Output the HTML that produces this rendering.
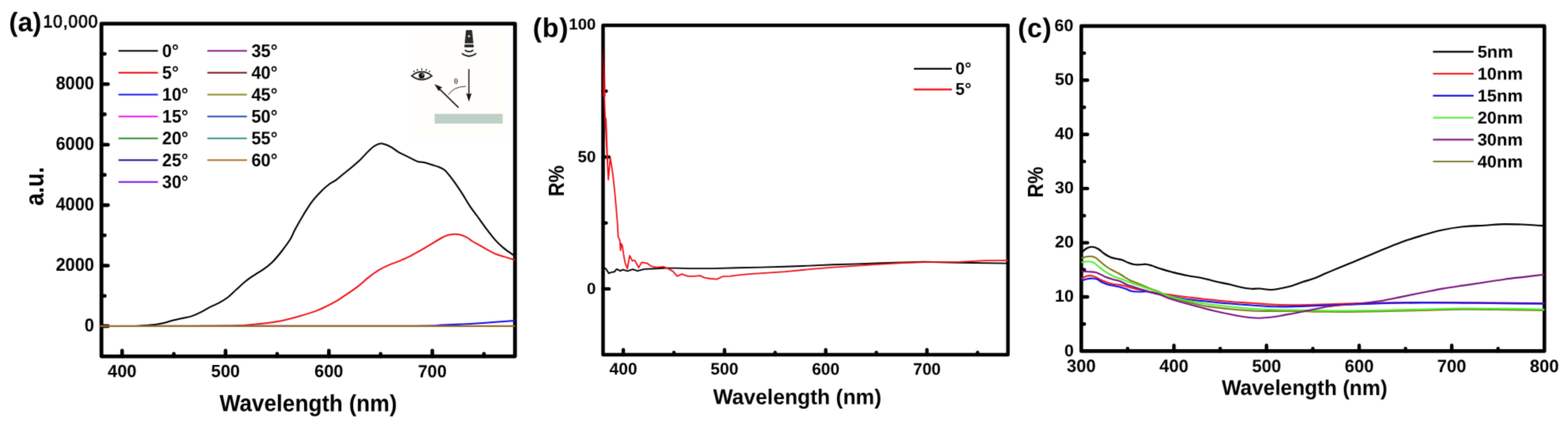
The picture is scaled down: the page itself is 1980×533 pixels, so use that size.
<!DOCTYPE html>
<html lang="en"><head><meta charset="utf-8"><title>Figure</title>
<style>html,body{margin:0;padding:0;background:#fff}body{width:1980px;height:533px;overflow:hidden}svg{display:block}text{font-family:'Liberation Sans', Arial, Helvetica, sans-serif;fill:#000}</style>
</head><body>
<svg width="1980" height="533" viewBox="0 0 1980 533">
<defs><filter id="soft" filterUnits="userSpaceOnUse" x="-20" y="-20" width="2020" height="573" color-interpolation-filters="sRGB"><feConvolveMatrix order="3" kernelMatrix="1 5 1 5 25 5 1 5 1" edgeMode="duplicate" preserveAlpha="true"/></filter></defs>
<rect width="1980" height="533" fill="#fff"/>
<g filter="url(#soft)">
<rect x="-20" y="-20" width="2020" height="573" fill="#fff"/>
<g id="panel-a">
<rect x="518.6" y="39.6" width="119.4" height="133.9" fill="#fffefa"/>
<g class="panel">
<path d="M154.2 450.1V442.9M284.8 450.1V442.9M415.3 450.1V442.9M545.9 450.1V442.9M219.5 450.1V446.7M350 450.1V446.7M480.6 450.1V446.7M611.1 450.1V446.7M128.1 411.9H136.4M128.1 335.5H136.4M128.1 259.1H136.4M128.1 182.7H136.4M128.1 106.2H136.4M128.1 373.7H132.4M128.1 297.3H132.4M128.1 220.9H132.4M128.1 144.4H132.4M128.1 68H132.4" fill="none" stroke="#000" stroke-width="4.6" stroke-linecap="round"/>
<rect x="128.1" y="29.8" width="522.2" height="420.3" fill="none" stroke="#000" stroke-width="4.8" stroke-linejoin="round"/>
<path d="M128 411.9C133.3 411.9 152.2 411.9 160 411.9C167.8 411.9 170.7 411.9 175 411.7C179.3 411.5 182.2 411.2 186 410.9C189.8 410.6 193.8 410.3 197.6 409.7C201.4 409.1 205.1 408.3 208.8 407.4C212.6 406.5 216.3 405.2 220.1 404.3C223.9 403.4 227.7 402.7 231.4 401.8C235.2 400.9 238.8 400.4 242.6 399.1C246.3 397.8 250.2 396 253.9 394.1C257.7 392.2 261.4 389.7 265.1 387.8C268.9 385.9 272.6 384.8 276.4 382.7C280.2 380.6 283.9 378.4 287.7 375.5C291.4 372.6 295.1 368.7 298.9 365.3C302.6 361.9 306.4 358.2 310.2 355.2C313.9 352.2 317.6 349.8 321.4 347.3C325.1 344.8 328.9 342.8 332.7 340.1C336.5 337.4 340.2 334.6 344 330.9C347.8 327.2 351.4 322.8 355.2 318C358.9 313.2 363.6 307 366.5 302.3C369.4 297.6 369.6 295.4 372.5 290C375.4 284.6 380.1 276.3 383.8 270.2C387.6 264.1 391.2 258.2 395 253.3C398.8 248.4 402.9 244.3 406.3 240.9C409.7 237.5 412.3 235.2 415.3 233C418.3 230.8 421.3 229.6 424.3 227.4C427.3 225.2 430.3 222.4 433.3 220C436.3 217.6 438.9 215.6 442.3 212.8C445.7 210 450.2 206.3 453.6 203.1C457 199.9 459.6 196.6 462.6 193.6C465.6 190.6 469 187.3 471.6 185.3C474.2 183.3 476.1 182.3 478.4 181.7C480.6 181.1 482.5 181.2 485.1 181.9C487.7 182.6 491.1 184.1 494.1 185.8C497.1 187.5 500.1 190.3 503.1 192.1C506.1 193.9 509.2 195.1 512.2 196.6C515.2 198.1 518.6 199.8 521.2 201.1C523.8 202.4 525.3 203.5 527.9 204.2C530.5 204.9 533.9 204.7 536.9 205.4C539.9 206.1 542.9 207.3 545.9 208.3C548.9 209.3 552.3 210.1 554.9 211.2C557.5 212.3 559.4 213.1 561.7 215C564 216.9 566.2 220.1 568.5 222.9C570.8 225.7 572.6 228.2 575.2 231.9C577.8 235.7 581.2 240.7 584.2 245.4C587.2 250.1 590.2 255.6 593.2 260.1C596.2 264.6 598.9 267.8 602.3 272.5C605.7 277.2 609.6 283 613.5 288.2C617.4 293.4 622 299.4 625.8 303.6C629.6 307.8 632.7 310.5 636.4 313.6C640.1 316.7 645.9 320.4 648.2 322C650.5 323.6 649.9 323.1 650.3 323.3" fill="none" stroke="#000000" stroke-width="2.05" stroke-linejoin="round" stroke-linecap="butt"/>
<path d="M128 411.9C148.3 411.9 223.4 412 250 411.9C276.6 411.8 277.7 411.7 287.7 411.5C297.7 411.3 302.5 411.3 310 410.8C317.5 410.3 325.2 409.5 332.7 408.6C340.2 407.7 347.7 406.7 355.2 405.2C362.7 403.7 370.2 401.6 377.7 399.5C385.2 397.4 394.1 394.6 400 392.4C405.9 390.2 408.7 388.6 413.1 386.4C417.5 384.2 421.9 381.9 426.3 379.3C430.7 376.7 435 373.6 439.4 370.6C443.8 367.6 448.1 364.8 452.5 361.4C456.9 358 461.3 353.5 465.7 350.1C470.1 346.7 474.4 343.5 478.8 340.9C483.2 338.3 487.5 336.3 491.9 334.4C496.3 332.5 500.6 331.2 505 329.4C509.4 327.5 513.8 325.5 518.2 323.3C522.6 321.1 526.9 318.7 531.3 316.2C535.7 313.7 540 311 544.4 308.4C548.8 305.8 554.1 302.4 557.6 300.5C561.1 298.6 562.8 297.9 565.4 297.1C568 296.3 570.7 295.9 573.3 295.8C575.9 295.7 578.6 295.9 581.2 296.5C583.8 297.1 586.5 298.3 589.1 299.7C591.7 301.1 594.4 303.4 597 305C599.6 306.6 601.8 307.7 604.8 309.4C607.8 311.1 611.8 313.5 615.3 315.4C618.8 317.3 622.3 319.2 625.8 320.7C629.3 322.1 632.7 322.9 636.4 324.1C640.1 325.3 645.9 327.1 648.2 327.8C650.5 328.5 649.9 328.3 650.3 328.4" fill="none" stroke="#f01418" stroke-width="2.05" stroke-linejoin="round" stroke-linecap="butt"/>
<path d="M128 411.9C190 411.9 428.4 411.9 500 411.7C571.6 411.5 543.6 410.9 557.6 410.5C571.6 410.1 575.1 409.9 583.8 409.5C592.5 409.1 601.2 408.5 610 407.9C618.8 407.3 629.7 406.5 636.4 406C643.1 405.5 648 405.2 650.3 405" fill="none" stroke="#1010f0" stroke-width="2.05" stroke-linejoin="round" stroke-linecap="butt"/>
<path d="M126.5 411.9L650.3 411.9" fill="none" stroke="#e07838" stroke-width="2.3" stroke-linejoin="round" stroke-linecap="butt"/>
<path d="M126.5 411.9L650.3 411.9" fill="none" stroke="#8c6c26" stroke-width="1.7" stroke-linejoin="round" stroke-linecap="butt"/>
<text x="118.90" transform="translate(0 418.44) rotate(0.03) scale(1 1.070)" font-size="21.8" font-weight="bold" text-anchor="end">0</text>
<text x="118.90" transform="translate(0 342.01) rotate(0.03) scale(1 1.070)" font-size="21.8" font-weight="bold" text-anchor="end">2000</text>
<text x="118.90" transform="translate(0 265.58) rotate(0.03) scale(1 1.070)" font-size="21.8" font-weight="bold" text-anchor="end">4000</text>
<text x="118.90" transform="translate(0 189.15) rotate(0.03) scale(1 1.070)" font-size="21.8" font-weight="bold" text-anchor="end">6000</text>
<text x="118.90" transform="translate(0 112.73) rotate(0.03) scale(1 1.070)" font-size="21.8" font-weight="bold" text-anchor="end">8000</text>
<text x="154.21" transform="translate(0 476.10) rotate(0.03) scale(1 1.020)" font-size="21.8" font-weight="bold" text-anchor="middle">400</text>
<text x="284.76" transform="translate(0 476.10) rotate(0.03) scale(1 1.020)" font-size="21.8" font-weight="bold" text-anchor="middle">500</text>
<text x="415.31" transform="translate(0 476.10) rotate(0.03) scale(1 1.020)" font-size="21.8" font-weight="bold" text-anchor="middle">600</text>
<text x="545.86" transform="translate(0 476.10) rotate(0.03) scale(1 1.020)" font-size="21.8" font-weight="bold" text-anchor="middle">700</text>
<path d="M149.6 64.3H199.4" stroke="#000000" stroke-width="2.1" fill="none"/>
<text x="204.80" transform="translate(0 71.80) rotate(0.03) scale(1 1.050)" font-size="21.8" font-weight="bold" text-anchor="start">0°</text>
<path d="M149.6 91.9H199.4" stroke="#f02020" stroke-width="2.1" fill="none"/>
<text x="204.80" transform="translate(0 99.40) rotate(0.03) scale(1 1.050)" font-size="21.8" font-weight="bold" text-anchor="start">5°</text>
<path d="M149.6 119.5H199.4" stroke="#1818f0" stroke-width="2.1" fill="none"/>
<text x="204.80" transform="translate(0 127.00) rotate(0.03) scale(1 1.050)" font-size="21.8" font-weight="bold" text-anchor="start">10°</text>
<path d="M149.6 147.1H199.4" stroke="#f030f0" stroke-width="2.1" fill="none"/>
<text x="204.80" transform="translate(0 154.60) rotate(0.03) scale(1 1.050)" font-size="21.8" font-weight="bold" text-anchor="start">15°</text>
<path d="M149.6 174.7H199.4" stroke="#2c8c2c" stroke-width="2.1" fill="none"/>
<text x="204.80" transform="translate(0 182.20) rotate(0.03) scale(1 1.050)" font-size="21.8" font-weight="bold" text-anchor="start">20°</text>
<path d="M149.6 202.3H199.4" stroke="#181888" stroke-width="2.1" fill="none"/>
<text x="204.80" transform="translate(0 209.80) rotate(0.03) scale(1 1.050)" font-size="21.8" font-weight="bold" text-anchor="start">25°</text>
<path d="M149.6 229.9H199.4" stroke="#8030f0" stroke-width="2.1" fill="none"/>
<text x="204.80" transform="translate(0 237.40) rotate(0.03) scale(1 1.050)" font-size="21.8" font-weight="bold" text-anchor="start">30°</text>
<path d="M261.8 64.3H311.8" stroke="#8a1a8a" stroke-width="2.1" fill="none"/>
<text x="317.50" transform="translate(0 71.80) rotate(0.03) scale(1 1.050)" font-size="21.8" font-weight="bold" text-anchor="start">35°</text>
<path d="M261.8 91.9H311.8" stroke="#8c3030" stroke-width="2.1" fill="none"/>
<text x="317.50" transform="translate(0 99.40) rotate(0.03) scale(1 1.050)" font-size="21.8" font-weight="bold" text-anchor="start">40°</text>
<path d="M261.8 119.5H311.8" stroke="#8a8c20" stroke-width="2.1" fill="none"/>
<text x="317.50" transform="translate(0 127.00) rotate(0.03) scale(1 1.050)" font-size="21.8" font-weight="bold" text-anchor="start">45°</text>
<path d="M261.8 147.1H311.8" stroke="#4060c0" stroke-width="2.1" fill="none"/>
<text x="317.50" transform="translate(0 154.60) rotate(0.03) scale(1 1.050)" font-size="21.8" font-weight="bold" text-anchor="start">50°</text>
<path d="M261.8 174.7H311.8" stroke="#389088" stroke-width="2.1" fill="none"/>
<text x="317.50" transform="translate(0 182.20) rotate(0.03) scale(1 1.050)" font-size="21.8" font-weight="bold" text-anchor="start">55°</text>
<path d="M261.8 202.3H311.8" stroke="#b07030" stroke-width="2.1" fill="none"/>
<text x="317.50" transform="translate(0 209.80) rotate(0.03) scale(1 1.050)" font-size="21.8" font-weight="bold" text-anchor="start">60°</text>
<g id="inset" fill="none" stroke="#1a1a1a">
<rect x="548.8" y="143.8" width="86" height="12.3" fill="#bdd1c7" stroke="none"/>
<path d="M588.5 37.9H596.1L597.8 54.7H586.8Z" fill="#2a2a2a" stroke="none"/>
<rect x="586.5" y="56.3" width="11.6" height="3.4" fill="#1a1a1a" stroke="none"/>
<circle cx="592.3" cy="45.8" r="1.3" fill="#fff" stroke="none"/>
<path d="M587 63.2Q592.3 67.6 597.6 63.2" stroke-width="1.8"/>
<path d="M583.2 67.4Q592.3 74.6 601.4 67.4" stroke-width="1.8"/>
<path d="M592.1 87.2V122" stroke-width="1.5"/>
<path d="M592.1 128.6L588.6 117.6Q592.1 120.4 595.6 117.6Z" fill="#111" stroke="none"/>
<path d="M579 135.8L553.4 110.8" stroke-width="1.7"/>
<path d="M548.6 106.2L558.8 110.6Q554.6 111.6 554.2 115.6Z" fill="#111" stroke="none"/>
<path d="M566.4 119.6Q572.6 109.4 588.4 109" stroke-width="1" stroke="#333"/>
<path d="M519.8 95.8Q532.6 85.6 545.4 95.8Q532.6 105.4 519.8 95.8Z" stroke-width="1.7" fill="#fff"/>
<circle cx="532.4" cy="95.6" r="3.7" fill="#111" stroke="none"/>
<circle cx="533.6" cy="94.4" r="0.9" fill="#fff" stroke="none"/>
<path d="M523.4 91.2L522.2 89.4M527.4 89.4L526.6 87.2M532.6 88.6V86.2M537.8 89.4L538.6 87.2M541.8 91.2L543 89.4" stroke-width="1.3"/>
</g>
<text x="575.8" y="106.4" font-size="9" font-weight="normal" text-anchor="middle" fill="#333">θ</text>
<text x="11.3" transform="translate(0 39.4) rotate(0.03)" font-size="33.8" font-weight="bold">(a)</text>
<text x="54.50" transform="translate(0 34.50) rotate(0.03) scale(1 1.040)" font-size="21.2" font-weight="normal" text-anchor="start" stroke="#000" stroke-width="0.8" stroke-linejoin="round" textLength="68.8" lengthAdjust="spacing">10,000</text>
<text x="389.20" transform="translate(0 519.20) rotate(0.03) scale(1 1.060)" font-size="27.95" font-weight="bold" text-anchor="middle">Wavelength (nm)</text>
<text transform="translate(55.00 235.30) rotate(-90) scale(1 1.160)" font-size="28.4" font-weight="bold" text-anchor="middle">a.u.</text>
</g>
<g id="panel-b">
<g class="panel">
<path d="M787.1 448.1V441.7M914.9 448.1V441.7M1042.7 448.1V441.7M1170.5 448.1V441.7M851 448.1V445.1M978.8 448.1V445.1M1106.6 448.1V445.1M1234.5 448.1V445.1M761.5 364.9H769.1M761.5 198.4H769.1M761.5 281.6H765.5M761.5 115.1H765.5" fill="none" stroke="#000" stroke-width="4.4" stroke-linecap="round"/>
<rect x="761.5" y="31.9" width="511.3" height="416.2" fill="none" stroke="#000" stroke-width="4.5" stroke-linejoin="round"/>
<path d="M761.6 337.6L763.5 338.6L765.5 339.9L768.8 345.2L772.1 343.9L776 343.2L778.7 339.9L783.3 342.2L786.5 340.6L792.5 342.3L799 340.2L804.9 342.2L814.1 339.9L827.3 339.3L840.4 338.6L855 338.6L870.3 339.1L900.6 339.1L930.9 338.3L961.2 337.6L991.5 336.7L1021.8 335.6L1052.1 334.2L1082.4 333.4L1112.7 332.2L1140 331.5L1166.7 330.8L1212.1 331.8L1272.8 332.6" fill="none" stroke="#000000" stroke-width="1.9" stroke-linejoin="round" stroke-linecap="butt"/>
<path d="M763 118L763.6 135L765.4 172L767.2 206L765.2 150L766 185L768.2 227L769.4 212L770.6 199.5L772.4 210L773.8 220L776 239.5L778.3 265L779.8 283L780.6 299.2L782.6 303.1L783.6 316.3L784.6 307.7L786 311L787.2 320.2L789.4 332L792.2 339.3L795.1 322.8L798.4 329.4L801.6 328.8L806.5 338L810.2 331.4L816.8 332.3L822 336L828.6 337.6L837.8 336.9L844.4 339.7L849.6 342.6L855.2 348.8L861.2 346.2L865 347.6L868.8 348.8L876.4 348.8L883.9 348.2L890 350.8L897.6 352L905.2 352.6L912.7 349.2L921.8 348.8L930.9 347.7L946.1 346.2L961.2 345.2L991.5 343.2L1021.8 340.2L1052.1 337.6L1082.4 335.6L1112.7 333.6L1140 332.2L1166.7 331.1L1212.1 330.8L1242.4 329.2L1272.8 328.8" fill="none" stroke="#f01018" stroke-width="1.8" stroke-linejoin="round" stroke-linecap="butt"/>
<text x="752.50" transform="translate(0 370.76) rotate(0.03) scale(1 0.980)" font-size="20.6" font-weight="bold" text-anchor="end">0</text>
<text x="752.50" transform="translate(0 204.28) rotate(0.03) scale(1 0.980)" font-size="20.6" font-weight="bold" text-anchor="end">50</text>
<text x="787.07" transform="translate(0 472.60) rotate(0.03) scale(1 1.001)" font-size="21.0" font-weight="bold" text-anchor="middle">400</text>
<text x="914.89" transform="translate(0 472.60) rotate(0.03) scale(1 1.001)" font-size="21.0" font-weight="bold" text-anchor="middle">500</text>
<text x="1042.71" transform="translate(0 472.60) rotate(0.03) scale(1 1.001)" font-size="21.0" font-weight="bold" text-anchor="middle">600</text>
<text x="1170.54" transform="translate(0 472.60) rotate(0.03) scale(1 1.001)" font-size="21.0" font-weight="bold" text-anchor="middle">700</text>
<defs><linearGradient id="rg" gradientUnits="userSpaceOnUse" x1="0" y1="54" x2="0" y2="122"><stop offset="0" stop-color="#200000" stop-opacity="0"/><stop offset="0.3" stop-color="#5a0004"/><stop offset="0.65" stop-color="#b0000c"/><stop offset="1" stop-color="#f01018"/></linearGradient></defs>
<path d="M761.6 54L763.1 122" stroke="url(#rg)" stroke-width="3.2" fill="none"/>
<path d="M1154 86.9H1202" stroke="#0a0a0a" stroke-width="2.3" fill="none"/>
<path d="M1154 113H1202" stroke="#f01c20" stroke-width="2.3" fill="none"/>
<text x="1206.50" transform="translate(0 93.10) rotate(0.03) scale(1 1.030)" font-size="21.0" font-weight="bold" text-anchor="start">0°</text>
<text x="1206.50" transform="translate(0 119.20) rotate(0.03) scale(1 1.030)" font-size="21.0" font-weight="bold" text-anchor="start">5°</text>
<text x="672.7" transform="translate(0 46.3) rotate(0.03)" font-size="34" font-weight="bold" letter-spacing="0.7">(b)</text>
<text x="752.50" transform="translate(0 36.80) rotate(0.03) scale(1 0.970)" font-size="20.5" font-weight="bold" text-anchor="end">100</text>
<text x="1006.80" transform="translate(0 509.90) rotate(0.03) scale(1 1.020)" font-size="26.5" font-weight="bold" text-anchor="middle">Wavelength (nm)</text>
<text transform="translate(711.80 228.60) rotate(-90) scale(1 1.160)" font-size="24.2" font-weight="bold" text-anchor="middle">R%</text>
</g>
<g id="panel-c">
<g class="panel">
<path d="M1482.4 443.4V436.3M1599.3 443.4V436.3M1716.3 443.4V436.3M1833.2 443.4V436.3M1423.9 443.4V440.1M1540.8 443.4V440.1M1657.8 443.4V440.1M1774.8 443.4V440.1M1891.7 443.4V440.1M1365.4 375H1373.3M1365.4 306.6H1373.3M1365.4 238.1H1373.3M1365.4 169.7H1373.3M1365.4 101.3H1373.3M1365.4 409.2H1369.3M1365.4 340.8H1369.3M1365.4 272.4H1369.3M1365.4 203.9H1369.3M1365.4 135.5H1369.3M1365.4 67.1H1369.3" fill="none" stroke="#000" stroke-width="4.4" stroke-linecap="round"/>
<rect x="1365.4" y="32.9" width="584.8" height="410.5" fill="none" stroke="#000" stroke-width="4.6" stroke-linejoin="round"/>
<path d="M1365.5 319.4C1366.6 318.5 1369.7 315.1 1372 313.8C1374.3 312.5 1377 311.7 1379.5 311.8C1382 311.9 1384.5 313.1 1387 314.5C1389.5 315.9 1392 318.8 1394.5 320.5C1397 322.2 1399.5 323.6 1402 324.7C1404.5 325.8 1407 326.2 1409.5 326.8C1412 327.4 1414.5 327.5 1417 328.3C1419.5 329.1 1422 330.9 1424.5 331.8C1427 332.8 1429.5 333.6 1432 334C1434.5 334.4 1437 334.4 1439.5 334.3C1442 334.2 1444.5 333.5 1447 333.7C1449.5 333.9 1451.5 334.6 1454.5 335.5C1457.5 336.4 1460.8 338 1465 339.3C1469.2 340.6 1473.8 342.1 1479.5 343.5C1485.2 344.9 1492.8 346.8 1499 348C1505.2 349.2 1511 349.8 1517 351C1523 352.2 1529 354.1 1535 355.5C1541 356.9 1547.5 358.1 1553 359.3C1558.5 360.6 1563.5 362.1 1568 363C1572.5 363.9 1576.2 364.6 1580 364.8C1583.8 365.1 1586.6 364.3 1590.6 364.5C1594.6 364.7 1600 365.9 1604 366C1608 366.1 1610.3 365.6 1614.6 364.8C1618.9 364.1 1624.6 362.9 1629.6 361.5C1634.6 360.1 1639.6 358 1644.6 356.3C1649.6 354.6 1654.6 353.4 1659.6 351.5C1664.6 349.6 1669.6 347.1 1674.6 345C1679.6 342.9 1685.4 340.5 1689.6 338.8C1693.8 337.1 1695.5 336.4 1700 334.6C1704.5 332.8 1709.2 330.8 1716.3 327.8C1723.4 324.8 1733.8 320.4 1742.5 316.8C1751.2 313.2 1760 309.4 1768.8 306.2C1777.5 303 1786.2 300.2 1795 297.6C1803.8 295 1812.5 292.4 1821.3 290.5C1830.1 288.6 1838.8 287.3 1847.6 286.3C1856.4 285.3 1865.2 285.2 1873.9 284.7C1882.7 284.2 1891.3 283.3 1900.1 283.1C1908.8 282.9 1918.1 283.4 1926.4 283.7C1934.8 284 1946.2 284.9 1950.2 285.2" fill="none" stroke="#000000" stroke-width="2.15" stroke-linejoin="round" stroke-linecap="butt"/>
<path d="M1365.5 352C1366.6 351.4 1369.9 349.3 1372 348.7C1374.1 348.1 1376 348.1 1378 348.3C1380 348.6 1382 349.3 1384 350.2C1386 351.1 1387.8 352.4 1390 353.5C1392.2 354.6 1395 355.6 1397.5 356.5C1400 357.4 1402.5 358.3 1405 358.8C1407.5 359.3 1410 359.1 1412.5 359.5C1415 359.9 1417.5 360.4 1420 361C1422.5 361.6 1425 362.6 1427.5 363.3C1430 364 1432.2 364.6 1435 365.2C1437.8 365.8 1441 366.1 1444 366.7C1447 367.3 1449.5 368.1 1453 368.8C1456.5 369.5 1461.3 370.1 1465 370.6C1468.7 371.1 1469.6 371.3 1475 372C1480.4 372.7 1490 374.1 1497.5 375C1505 375.9 1511.2 376.8 1520 377.7C1528.8 378.6 1540 379.8 1550 380.7C1560 381.6 1570 382.1 1580 382.8C1590 383.5 1600 384.4 1610 384.8C1620 385.2 1630 385.2 1640 385.2C1650 385.1 1660 384.8 1670 384.5C1680 384.2 1687.9 383.9 1700 383.6C1712.1 383.3 1726.7 382.9 1742.5 382.6C1758.3 382.3 1777.5 382.1 1795 382C1812.5 381.9 1830.1 382.1 1847.6 382.2C1865.1 382.3 1883 382.5 1900.1 382.6C1917.2 382.7 1941.8 382.9 1950.2 383" fill="none" stroke="#f01820" stroke-width="2.15" stroke-linejoin="round" stroke-linecap="butt"/>
<path d="M1365.5 354.6C1366.6 354.2 1369.7 353 1372 352.5C1374.3 352 1377.2 351.6 1379.5 351.7C1381.8 351.8 1383.5 352 1385.5 352.8C1387.5 353.6 1389.2 355.4 1391.5 356.5C1393.8 357.6 1396.5 358.8 1399 359.5C1401.5 360.2 1404 360.5 1406.5 361C1409 361.5 1411.5 361.9 1414 362.5C1416.5 363.1 1419 363.9 1421.5 364.8C1424 365.7 1426.2 367.2 1429 367.8C1431.8 368.4 1435 368.4 1438 368.5C1441 368.6 1444 367.9 1447 368.2C1450 368.4 1453 369.4 1456 370C1459 370.6 1461.8 371 1465 371.6C1468.2 372.2 1469.6 372.5 1475 373.5C1480.4 374.5 1490 376.6 1497.5 377.7C1505 378.8 1511.2 379.4 1520 380.3C1528.8 381.2 1540 382.4 1550 383.3C1560 384.2 1570 384.8 1580 385.5C1590 386.2 1600 387.1 1610 387.3C1620 387.6 1630 387.2 1640 387C1650 386.8 1660 386.2 1670 385.8C1680 385.4 1687.9 385.2 1700 384.8C1712.1 384.4 1726.7 383.6 1742.5 383.2C1758.3 382.8 1777.5 382.5 1795 382.4C1812.5 382.3 1830.1 382.5 1847.6 382.6C1865.1 382.7 1883 383 1900.1 383.2C1917.2 383.4 1941.8 383.5 1950.2 383.6" fill="none" stroke="#1010f0" stroke-width="2.15" stroke-linejoin="round" stroke-linecap="butt"/>
<path d="M1365.5 326C1366.6 325.7 1369.9 324.7 1372 324.3C1374.1 323.9 1376 323.6 1378 323.8C1380 324.1 1382 324.6 1384 325.8C1386 327 1387.8 329.1 1390 331C1392.2 332.9 1395 335.2 1397.5 337C1400 338.8 1402.5 340.1 1405 341.5C1407.5 342.9 1410 343.9 1412.5 345.3C1415 346.7 1417.5 348.3 1420 349.8C1422.5 351.3 1425 353.1 1427.5 354.3C1430 355.6 1432.2 356.2 1435 357.3C1437.8 358.4 1441 359.8 1444 361C1447 362.2 1449.5 363.4 1453 364.8C1456.5 366.2 1461.3 367.7 1465 369.3C1468.7 370.9 1469.6 372.4 1475 374.3C1480.4 376.2 1490 379 1497.5 381C1505 383 1511.2 384.7 1520 386.2C1528.8 387.7 1540 388.9 1550 390C1560 391.1 1570 392 1580 392.5C1590 393 1600 392.9 1610 393C1620 393.1 1630 392.9 1640 393C1650 393.1 1660 393.6 1670 393.7C1680 393.8 1687.9 394 1700 393.9C1712.1 393.8 1726.7 393.6 1742.5 393.3C1758.3 393 1777.5 392.3 1795 391.9C1812.5 391.5 1830.1 390.8 1847.6 390.7C1865.1 390.6 1883 390.9 1900.1 391.1C1917.2 391.3 1941.8 391.8 1950.2 391.9" fill="none" stroke="#7a7a18" stroke-width="2.15" stroke-linejoin="round" stroke-linecap="butt"/>
<path d="M1365.5 331.2C1367.1 331.1 1372.4 330.2 1375 330.3C1377.6 330.4 1379 330.8 1381 331.8C1383 332.8 1384.8 334.6 1387 336.3C1389.2 338.1 1392 340.6 1394.5 342.3C1397 344.1 1399.5 345.4 1402 346.8C1404.5 348.2 1407 349.5 1409.5 350.5C1412 351.5 1414.5 351.9 1417 352.8C1419.5 353.7 1421.5 354.7 1424.5 355.8C1427.5 356.9 1431.8 358.4 1435 359.5C1438.2 360.6 1441 361.5 1444 362.5C1447 363.5 1449.5 364.3 1453 365.5C1456.5 366.7 1461.3 368.4 1465 369.7C1468.7 371 1469.6 371.9 1475 373.5C1480.4 375.1 1490 377.6 1497.5 379.2C1505 380.8 1511.2 382 1520 383.3C1528.8 384.6 1540 385.9 1550 387C1560 388.1 1570 389.3 1580 390C1590 390.7 1600 390.9 1610 391.2C1620 391.5 1630 391.6 1640 391.8C1650 392 1660 392.3 1670 392.4C1680 392.5 1687.9 392.7 1700 392.6C1712.1 392.5 1726.7 392.3 1742.5 392C1758.3 391.7 1777.5 391.1 1795 390.7C1812.5 390.3 1830.1 389.6 1847.6 389.5C1865.1 389.4 1883 389.7 1900.1 389.9C1917.2 390.1 1941.8 390.6 1950.2 390.7" fill="none" stroke="#50f030" stroke-width="2.15" stroke-linejoin="round" stroke-linecap="butt"/>
<path d="M1365.5 342.7C1367.1 342.8 1372.2 343.1 1375 343.3C1377.8 343.5 1380.2 343.4 1382.5 343.8C1384.8 344.2 1386.2 345 1388.5 346C1390.8 347 1393.2 348.7 1396 349.8C1398.8 350.9 1402 351.9 1405 352.8C1408 353.7 1411 353.9 1414 355C1417 356.1 1420 358.2 1423 359.5C1426 360.8 1429 361.5 1432 362.5C1435 363.5 1438 364.6 1441 365.5C1444 366.4 1446 367.1 1450 368.2C1454 369.3 1460.8 370.9 1465 372.3C1469.2 373.7 1469.6 374.7 1475 376.5C1480.4 378.3 1490 381.2 1497.5 383.3C1505 385.4 1513.8 387.7 1520 389.3C1526.2 390.9 1530 391.8 1535 393C1540 394.2 1545 395.2 1550 396.3C1555 397.4 1560 398.5 1565 399.3C1570 400.1 1575.7 400.9 1580 401.3C1584.3 401.7 1586.6 401.8 1590.6 401.7C1594.6 401.6 1599.5 401.3 1604 400.8C1608.5 400.3 1612.8 399.5 1617.6 398.7C1622.4 397.9 1627.6 396.9 1632.6 396C1637.6 395.1 1642.6 394 1647.6 393C1652.6 392 1657.6 391 1662.6 390C1667.6 389 1671.4 387.9 1677.6 387C1683.8 386.1 1693.5 385.2 1700 384.6C1706.5 384 1709.2 384 1716.3 383.3C1723.4 382.6 1733.8 381.7 1742.5 380.3C1751.2 378.9 1760 376.9 1768.8 375.1C1777.5 373.4 1786.2 371.6 1795 369.8C1803.8 368.1 1812.5 366.1 1821.3 364.6C1830.1 363.1 1838.8 361.9 1847.6 360.6C1856.4 359.3 1865.2 358 1873.9 356.7C1882.7 355.4 1891.3 353.9 1900.1 352.7C1908.8 351.5 1918.1 350.6 1926.4 349.6C1934.8 348.6 1946.2 347.3 1950.2 346.8" fill="none" stroke="#7c1682" stroke-width="2.15" stroke-linejoin="round" stroke-linecap="butt"/>
<text x="1356.00" transform="translate(0 380.18) rotate(0.03) scale(1 0.990)" font-size="21.5" font-weight="bold" text-anchor="end">10</text>
<text x="1356.00" transform="translate(0 311.77) rotate(0.03) scale(1 0.990)" font-size="21.5" font-weight="bold" text-anchor="end">20</text>
<text x="1356.00" transform="translate(0 243.35) rotate(0.03) scale(1 0.990)" font-size="21.5" font-weight="bold" text-anchor="end">30</text>
<text x="1356.00" transform="translate(0 174.93) rotate(0.03) scale(1 0.990)" font-size="21.5" font-weight="bold" text-anchor="end">40</text>
<text x="1356.00" transform="translate(0 106.52) rotate(0.03) scale(1 0.990)" font-size="21.5" font-weight="bold" text-anchor="end">50</text>
<text x="1365.40" transform="translate(0 469.10) rotate(0.03) scale(1 1.020)" font-size="22.0" font-weight="bold" text-anchor="middle">300</text>
<text x="1482.36" transform="translate(0 469.10) rotate(0.03) scale(1 1.020)" font-size="22.0" font-weight="bold" text-anchor="middle">400</text>
<text x="1599.32" transform="translate(0 469.10) rotate(0.03) scale(1 1.020)" font-size="22.0" font-weight="bold" text-anchor="middle">500</text>
<text x="1716.28" transform="translate(0 469.10) rotate(0.03) scale(1 1.020)" font-size="22.0" font-weight="bold" text-anchor="middle">600</text>
<text x="1833.24" transform="translate(0 469.10) rotate(0.03) scale(1 1.020)" font-size="22.0" font-weight="bold" text-anchor="middle">700</text>
<text x="1950.20" transform="translate(0 469.10) rotate(0.03) scale(1 1.020)" font-size="22.0" font-weight="bold" text-anchor="middle">800</text>
<path d="M1809.5 65.4H1860.8" stroke="#000000" stroke-width="2.2" fill="none"/>
<text x="1865.70" transform="translate(0 71.80) rotate(0.03) scale(1 0.980)" font-size="21.9" font-weight="bold" text-anchor="start">5nm</text>
<path d="M1809.5 93.1H1860.8" stroke="#f02828" stroke-width="2.2" fill="none"/>
<text x="1865.70" transform="translate(0 99.50) rotate(0.03) scale(1 0.980)" font-size="21.9" font-weight="bold" text-anchor="start">10nm</text>
<path d="M1809.5 120.9H1860.8" stroke="#1818e8" stroke-width="2.2" fill="none"/>
<text x="1865.70" transform="translate(0 127.30) rotate(0.03) scale(1 0.980)" font-size="21.9" font-weight="bold" text-anchor="start">15nm</text>
<path d="M1809.5 148.6H1860.8" stroke="#60f048" stroke-width="2.2" fill="none"/>
<text x="1865.70" transform="translate(0 155.00) rotate(0.03) scale(1 0.980)" font-size="21.9" font-weight="bold" text-anchor="start">20nm</text>
<path d="M1809.5 176.3H1860.8" stroke="#80208a" stroke-width="2.2" fill="none"/>
<text x="1865.70" transform="translate(0 182.70) rotate(0.03) scale(1 0.980)" font-size="21.9" font-weight="bold" text-anchor="start">30nm</text>
<path d="M1809.5 204.0H1860.8" stroke="#808030" stroke-width="2.2" fill="none"/>
<text x="1865.70" transform="translate(0 210.40) rotate(0.03) scale(1 0.980)" font-size="21.9" font-weight="bold" text-anchor="start">40nm</text>
<text x="1285.3" transform="translate(0 46.3) rotate(0.03)" font-size="34" font-weight="bold" letter-spacing="0.45">(c)</text>
<text x="1355.50" transform="translate(0 38.50) rotate(0.03) scale(1 0.990)" font-size="21.5" font-weight="bold" text-anchor="end">60</text>
<text x="1356.00" transform="translate(0 449.30) rotate(0.03) scale(1 0.990)" font-size="21.5" font-weight="bold" text-anchor="end">0</text>
<text x="1647.30" transform="translate(0 498.00) rotate(0.03) scale(1 1.030)" font-size="26.1" font-weight="bold" text-anchor="middle">Wavelength (nm)</text>
<text transform="translate(1317.30 230.00) rotate(-90) scale(1 1.140)" font-size="24.2" font-weight="bold" text-anchor="middle">R%</text>
</g>
</g>
</svg>
</body></html>
